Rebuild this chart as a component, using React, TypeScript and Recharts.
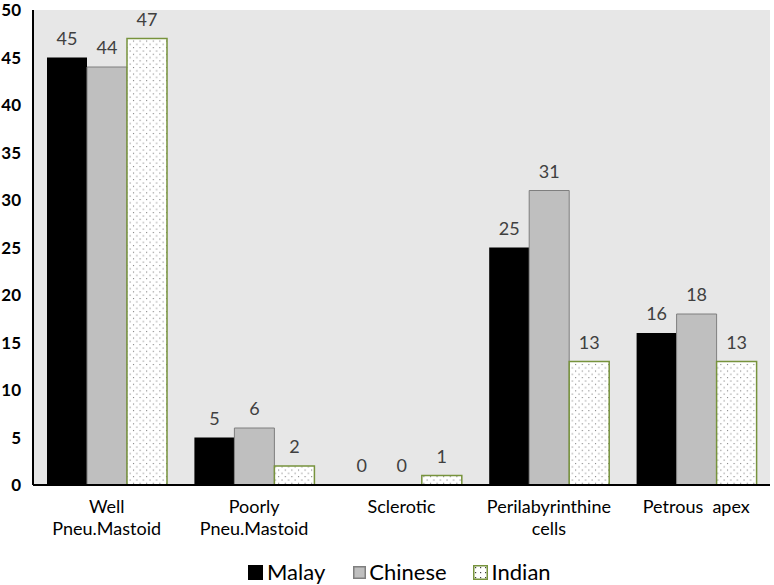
import React from "react";
import { BarChart, Bar, XAxis, YAxis, CartesianGrid, Legend, LabelList } from "recharts";

const categories = ["Well\nPneu.Mastoid", "Poorly\nPneu.Mastoid", "Sclerotic", "Perilabyrinthine\ncells", "Petrous  apex"];
const malay = [45, 5, 0, 25, 16];
const chinese = [44, 6, 0, 31, 18];
const indian = [47, 2, 1, 13, 13];
const yTicks = [0, 5, 10, 15, 20, 25, 30, 35, 40, 45, 50];

const data = categories.map((c, i) => ({ name: c, Malay: malay[i], Chinese: chinese[i], Indian: indian[i] }));

const FONT = "Lato, 'Open Sans', sans-serif";

const XTick = (props: any) => {
  const { x, y, payload } = props;
  const lines = String(payload.value).split("\n");
  return (
    <text x={x} y={y} textAnchor="middle" fill="#000" fontFamily={FONT} fontSize={18} style={{ whiteSpace: "pre" }}>
      {lines.map((l, i) => (
        <tspan key={i} x={x} dy={i === 0 ? 20 : 22} style={{ whiteSpace: "pre" }}>
          {l}
        </tspan>
      ))}
    </text>
  );
};

const ValueLabel = (props: any) => {
  const { x, y, width, value } = props;
  if (x == null || y == null) return null;
  return (
    <text x={Number(x) + Number(width) / 2} y={Number(y) - 13} textAnchor="middle" fill="#404040" fontSize={18} fontFamily={FONT}>
      {String(value)}
    </text>
  );
};

const tinyZero = (value: any) => (Number(value) === 0 ? 0.01 : 0);

const LegendContent = () => {
  const items = [
    { name: "Malay", fill: "#000", stroke: "#000", size: 15, gap: 4, ml: 0 },
    { name: "Chinese", fill: "#bfbfbf", stroke: "#7f7f7f", size: 13, gap: 3, ml: 28 },
    { name: "Indian", fill: "url(#ldots)", stroke: "#77933c", size: 15, gap: 4, ml: 26 },
  ];
  return (
    <div style={{ display: "flex", justifyContent: "flex-start", alignItems: "center", height: 40, paddingTop: 18, paddingLeft: 248, boxSizing: "border-box", fontFamily: FONT, fontSize: 22, color: "#000" }}>
      {items.map((it) => (
        <div key={it.name} style={{ display: "flex", alignItems: "center", marginLeft: it.ml }}>
          <svg width={it.size} height={it.size} style={{ marginRight: it.gap, display: "block" }}>
            <defs>
              <pattern id="ldots" width="5" height="5" patternUnits="userSpaceOnUse">
                <rect width="5" height="5" fill="#fff" />
                <rect x="2" y="2" width="1.2" height="1.2" fill="#444" />
              </pattern>
            </defs>
            <rect x={0.75} y={0.75} width={it.size - 1.5} height={it.size - 1.5} fill={it.fill} stroke={it.stroke} strokeWidth={1.5} />
          </svg>
          <span style={{ lineHeight: "22px" }}>{it.name}</span>
        </div>
      ))}
    </div>
  );
};

export default function App() {
  return (
    <div style={{ position: "absolute", left: 0, top: 0, width: 774, height: 585, background: "#fff" }}>
      <BarChart
        width={774}
        height={585}
        data={data}
        margin={{ top: 10, right: 4, left: 0, bottom: 2 }}
        barCategoryGap="9.5%"
        barGap={0}
      >
        <defs>
          <pattern id="dots" width="6.6" height="6.6" patternUnits="userSpaceOnUse">
            <rect width="6.6" height="6.6" fill="#fff" />
            <rect x="1" y="1" width="1" height="1" fill="#666" />
            <rect x="4.3" y="4.3" width="1" height="1" fill="#666" />
          </pattern>
        </defs>
        <CartesianGrid horizontal={false} vertical={false} fill="#e7e7e7" />
        <Legend verticalAlign="bottom" content={<LegendContent />} wrapperStyle={{ height: 40, left: 0, width: 774 }} />
        <Bar dataKey="Malay" fill="#000" minPointSize={tinyZero} isAnimationActive={false}>
          <LabelList dataKey="Malay" content={<ValueLabel />} />
        </Bar>
        <Bar dataKey="Chinese" fill="#bfbfbf" stroke="#7f7f7f" strokeWidth={1} minPointSize={tinyZero} isAnimationActive={false}>
          <LabelList dataKey="Chinese" content={<ValueLabel />} />
        </Bar>
        <Bar dataKey="Indian" fill="url(#dots)" stroke="#77933c" strokeWidth={1.5} minPointSize={tinyZero} isAnimationActive={false}>
          <LabelList dataKey="Indian" content={<ValueLabel />} />
        </Bar>
        <XAxis
          dataKey="name"
          height={58}
          axisLine={{ stroke: "#000", strokeWidth: 2 }}
          tickLine={false}
          tick={<XTick />}
          interval={0}
        />
        <YAxis
          width={33}
          domain={[0, 50]}
          ticks={yTicks}
          interval={0}
          axisLine={{ stroke: "#000", strokeWidth: 2 }}
          tickLine={false}
          tickMargin={6}
          tick={{ fill: "#000", fontSize: 17, fontWeight: "bold", fontFamily: FONT }}
        />
      </BarChart>
    </div>
  );
}
